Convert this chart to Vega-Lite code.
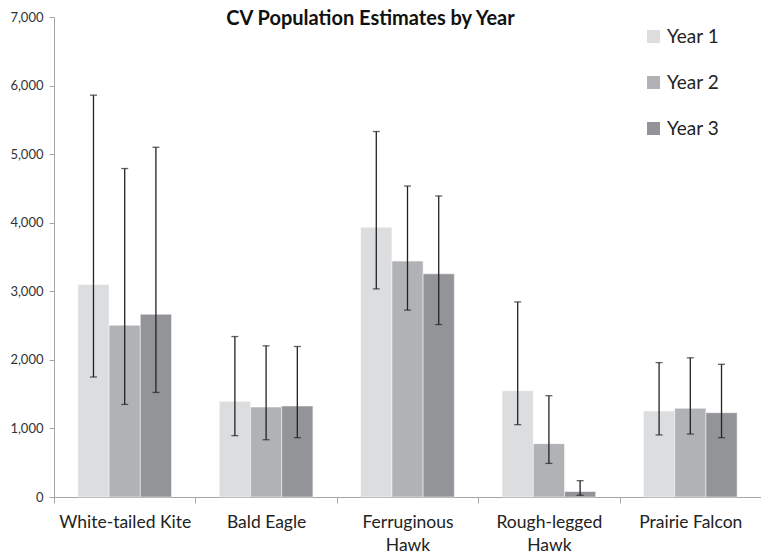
{
  "$schema": "https://vega.github.io/schema/vega-lite/v6.json",
  "width": 707,
  "height": 480,
  "autosize": {"type": "none"},
  "padding": {"left": 54, "top": 17, "right": 0, "bottom": 59},
  "background": "white",
  "config": {
    "view": {"stroke": null},
    "font": "Lato"
  },
  "title": {
    "text": "CV Population Estimates by Year",
    "fontSize": 20,
    "fontWeight": "bold",
    "font": "Lato",
    "color": "#111111",
    "anchor": "middle",
    "dx": -37,
    "dy": 38,
    "offset": 0,
    "baseline": "bottom"
  },
  "data": {
    "values": [
      {"species": "White-tailed Kite", "year": "Year 1", "est": 3100, "low": 1750, "high": 5860},
      {"species": "White-tailed Kite", "year": "Year 2", "est": 2505, "low": 1350, "high": 4790},
      {"species": "White-tailed Kite", "year": "Year 3", "est": 2665, "low": 1525, "high": 5100},
      {"species": "Bald Eagle", "year": "Year 1", "est": 1395, "low": 895, "high": 2340},
      {"species": "Bald Eagle", "year": "Year 2", "est": 1312, "low": 835, "high": 2205},
      {"species": "Bald Eagle", "year": "Year 3", "est": 1327, "low": 865, "high": 2195},
      {"species": "Ferruginous Hawk", "year": "Year 1", "est": 3935, "low": 3035, "high": 5330},
      {"species": "Ferruginous Hawk", "year": "Year 2", "est": 3440, "low": 2725, "high": 4535},
      {"species": "Ferruginous Hawk", "year": "Year 3", "est": 3255, "low": 2515, "high": 4390},
      {"species": "Rough-legged Hawk", "year": "Year 1", "est": 1550, "low": 1055, "high": 2845},
      {"species": "Rough-legged Hawk", "year": "Year 2", "est": 778, "low": 490, "high": 1478},
      {"species": "Rough-legged Hawk", "year": "Year 3", "est": 80, "low": 25, "high": 238},
      {"species": "Prairie Falcon", "year": "Year 1", "est": 1254, "low": 905, "high": 1960},
      {"species": "Prairie Falcon", "year": "Year 2", "est": 1293, "low": 918, "high": 2030},
      {"species": "Prairie Falcon", "year": "Year 3", "est": 1229, "low": 865, "high": 1935}
    ]
  },
  "encoding": {
    "x": {
      "field": "species",
      "type": "nominal",
      "sort": null,
      "scale": {"paddingInner": 0, "paddingOuter": 0},
      "axis": {
        "title": null,
        "labelAngle": 0,
        "labelFontSize": 17.5,
        "labelColor": "#222222",
        "labelPadding": 10,
        "labelLineHeight": 23,
        "labelExpr": "indexof(datum.label, 'Hawk') > 0 ? split(datum.label, ' ') : datum.label",
        "tickBand": "extent",
        "tickSize": 6,
        "tickColor": "#a6a6a6",
        "domainColor": "#a6a6a6",
        "labelBaseline": "top"
      }
    },
    "xOffset": {
      "field": "year",
      "type": "nominal",
      "scale": {"paddingInner": 0, "paddingOuter": 0.765}
    }
  },
  "layer": [
    {
      "mark": {"type": "bar", "stroke": "white", "strokeWidth": 0.5},
      "encoding": {
        "y": {
          "field": "est",
          "type": "quantitative",
          "scale": {"domain": [0, 7000], "nice": false},
          "axis": {
            "title": null,
            "values": [0, 1000, 2000, 3000, 4000, 5000, 6000, 7000],
            "format": ",.0f",
            "grid": false,
            "labelFontSize": 13,
            "labelColor": "#333333",
            "labelPadding": 6,
            "tickSize": 5,
            "tickColor": "#a6a6a6",
            "domainColor": "#a6a6a6"
          }
        },
        "color": {
          "field": "year",
          "type": "nominal",
          "scale": {"domain": ["Year 1", "Year 2", "Year 3"], "range": ["#dcdddf", "#b1b2b5", "#939497"]},
          "legend": {
            "title": null,
            "orient": "none",
            "legendX": 590,
            "legendY": 10,
            "symbolType": "square",
            "symbolSize": 169,
            "symbolStrokeWidth": 0,
            "labelFontSize": 19,
            "labelColor": "#222222",
            "labelOffset": 4,
            "rowPadding": 26
          }
        }
      }
    },
    {
      "mark": {"type": "rule", "color": "#222222", "strokeWidth": 1.3},
      "encoding": {
        "y": {"field": "low", "type": "quantitative"},
        "y2": {"field": "high"}
      }
    },
    {
      "mark": {"type": "tick", "color": "#222222", "thickness": 1.3, "size": 7},
      "encoding": {"y": {"field": "low", "type": "quantitative"}}
    },
    {
      "mark": {"type": "tick", "color": "#222222", "thickness": 1.3, "size": 7},
      "encoding": {"y": {"field": "high", "type": "quantitative"}}
    }
  ]
}
